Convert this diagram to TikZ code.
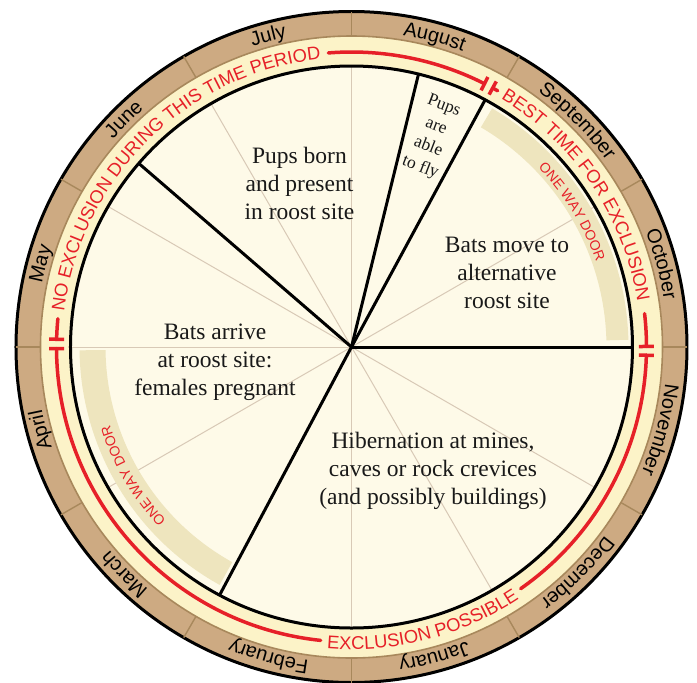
\documentclass[tikz,border=0pt]{standalone}
\usepackage{fontspec}
\setmainfont{Liberation Serif}
\setsansfont{Liberation Sans}
\usetikzlibrary{decorations.text}
\definecolor{bandbrown}{RGB}{205,170,130}
\definecolor{divbrown}{RGB}{168,136,92}
\definecolor{bandyellow}{RGB}{252,243,200}
\definecolor{diskcream}{RGB}{254,250,232}
\definecolor{doorkhaki}{RGB}{238,229,190}
\definecolor{spokegrey}{RGB}{216,201,182}
\definecolor{exred}{RGB}{230,32,40}
\newcommand{\monthfont}{\sffamily\fontsize{10}{12}\selectfont}
\newcommand{\ringfont}{\sffamily\fontsize{9.2}{11}\selectfont\color{exred}}
\newcommand{\doorfont}{\sffamily\fontsize{7}{8}\selectfont\color{exred}}

\begin{document}
\begin{tikzpicture}[x=0.5pt, y=0.5pt,
  spoke/.style={spokegrey, line width=0.5pt},
  divider/.style={divbrown, line width=0.7pt},
  sector/.style={black, line width=1.5pt},
  rim/.style={black, line width=1.5pt},
  redline/.style={exred, line width=1.75pt, line cap=round},
  redtick/.style={exred, line width=1.75pt},
  arctext/.style={decorate, decoration={text along path, text align=center, text={#1}}},
  phase/.style={font=\fontsize{11.75}{14}\selectfont, align=center, text=black!90},
  every node/.style={inner sep=0pt}
]

\useasboundingbox (-351.5,-335) rectangle (345.5,347);
\coordinate (hub) at (0,0);

% ---- rings ----
\fill[bandbrown] (hub) circle[radius=335.5];
\filldraw[fill=bandyellow, draw=divbrown, line width=0.8pt] (hub) circle[radius=311];
\fill[diskcream] (hub) circle[radius=281];

% ---- month spokes (thin) ----
\foreach \a in {30,90,120,150,180,210,270,300,330}
  \draw[spoke] (hub) -- (\a:281);

% ---- one way door bands ----
\fill[doorkhaki] (1.5:255) arc[start angle=1.5, end angle=59.5, radius=255]
  -- (59.5:277) arc[start angle=59.5, end angle=1.5, radius=277] -- cycle;
\fill[doorkhaki] (180.7:246) arc[start angle=180.7, end angle=241, radius=246]
  -- (241:272) arc[start angle=241, end angle=180.7, radius=272] -- cycle;

% ---- phase boundaries ----
\foreach \a in {0,61.6,76.2,139.2,242}
  \draw[sector] (hub) -- (\a:281);
\draw[rim] (hub) circle[radius=281];
\draw[rim] (hub) circle[radius=335.5];
\foreach \a in {0,30,...,330}
  \draw[divider] (\a:311) -- (\a:335.5);

% ---- month names ----
\foreach \m [count=\i] in {October,November,December,January,February,March,April,May,June,July,August,September}{
  \pgfmathsetmacro\a{15-30*(\i-1)}
  \path[arctext/.expanded={|\noexpand\monthfont|\m}] ({\a+15}:316) arc[start angle=\a+15, end angle=\a-15, radius=316];
}

% ---- exclusion periods ----
\path[arctext={|\ringfont|NO EXCLUSION DURING THIS TIME PERIOD}] (176:289.5) arc[start angle=176, end angle=93, radius=289.5];
\path[arctext={|\ringfont|BEST TIME FOR EXCLUSION}] (61:289.5) arc[start angle=61, end angle=6.9, radius=289.5];
\path[arctext={|\ringfont|EXCLUSION POSSIBLE}] (-96:302.5) arc[start angle=-96, end angle=-55, radius=302.5];

\draw[redline] (178.5:295) arc[start angle=178.5, end angle=174.5, radius=295];
\draw[redline] (94.5:295) arc[start angle=94.5, end angle=63.2, radius=295];
\draw[redline] (61.4:295) arc[start angle=61.4, end angle=60.3, radius=295];
\draw[redline] (6.5:295) arc[start angle=6.5, end angle=0.1, radius=295];
\draw[redline] (-1.6:295) arc[start angle=-1.6, end angle=-55, radius=295];
\draw[redline] (-96:295) arc[start angle=-96, end angle=-179.7, radius=295];
\foreach \a in {178.5,180.3,63.2,61.4,0.1,-1.6}
  \draw[redtick] (\a:287.5) -- (\a:302.5);

\path[arctext={|\doorfont|ONE WAY DOOR}] (56:259) arc[start angle=56, end angle=7, radius=259];
\path[arctext={|\doorfont|ONE WAY DOOR}] (235:254) arc[start angle=235, end angle=186, radius=254];

% ---- phases ----
\node[phase] (pupsborn) at (-52,163.5) {Pups born\\and present\\in roost site};
\node[phase, font=\fontsize{8.75}{11}\selectfont, rotate=-21] (pupsfly) at (80.5,210) {Pups\\are\\able\\to fly};
\node[phase] (batsmove) at (155.5,74) {Bats move to\\alternative\\roost site};
\node[phase] (batsarrive) at (-136.5,-15) {Bats arrive\\at roost site:\\females pregnant};
\node[phase] (hibernation) at (81.5,-124) {Hibernation at mines,\\caves or rock crevices\\(and possibly buildings)};

\end{tikzpicture}
\end{document}
